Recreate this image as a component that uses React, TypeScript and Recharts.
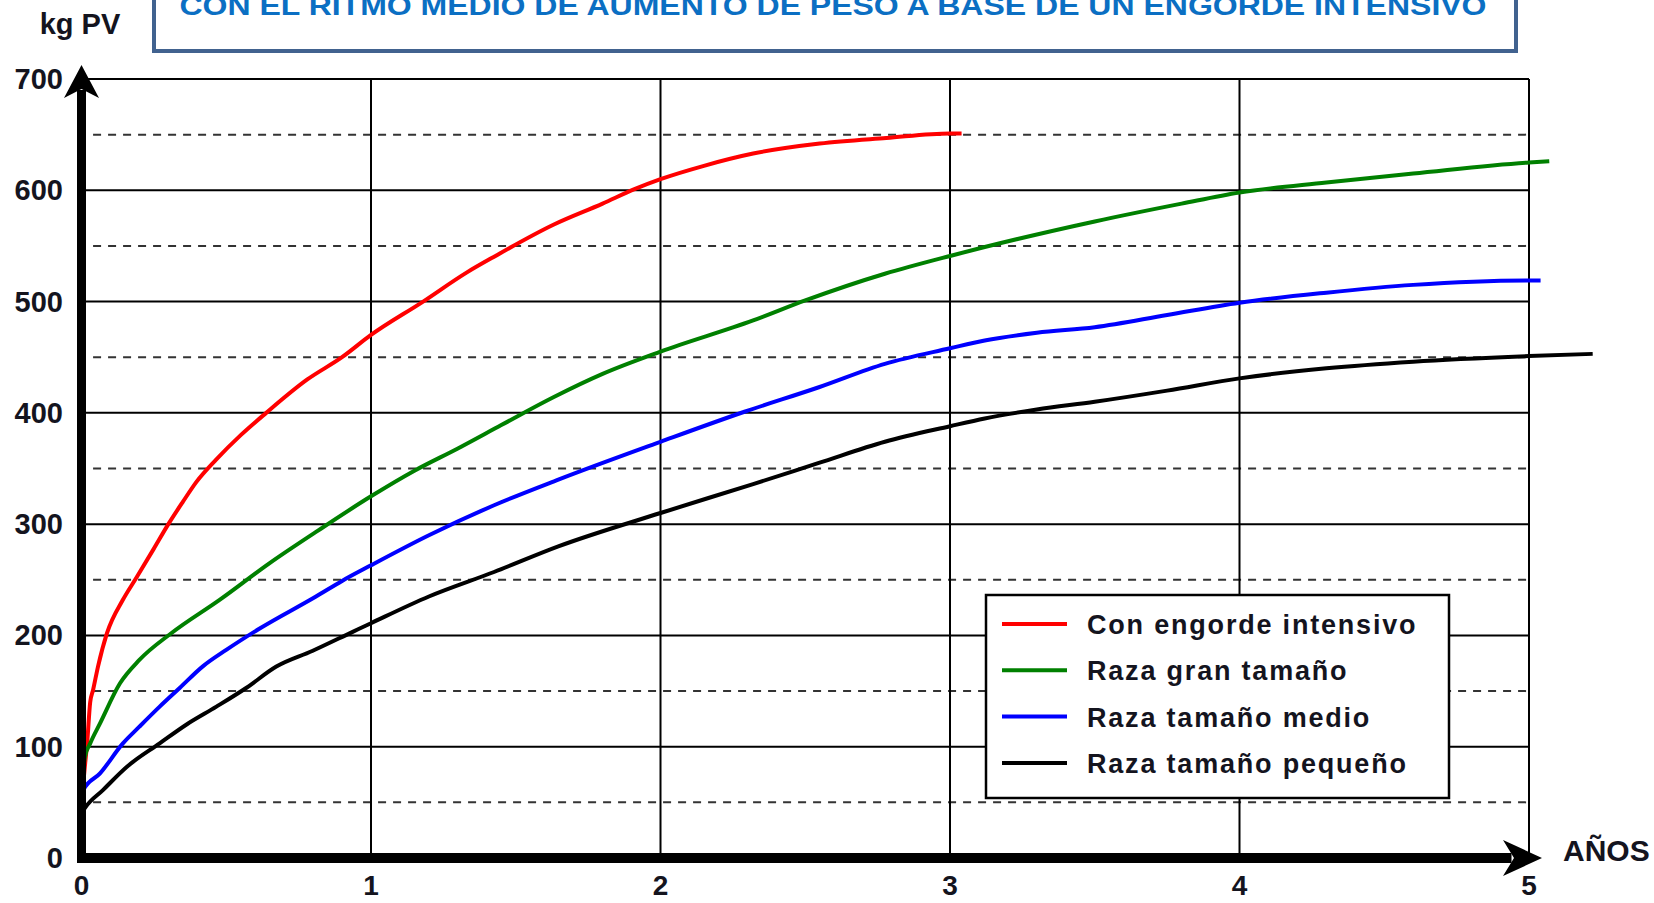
import React from 'react';
import { LineChart, Line, XAxis, YAxis, ReferenceLine } from 'recharts';

// Years and live weight (kg PV), per series
const redYears = [0, 0.01, 0.02, 0.03, 0.04, 0.057, 0.088, 0.143, 0.19, 0.25, 0.3, 0.35, 0.397, 0.465, 0.55, 0.638, 0.78, 0.9, 1.0, 1.18, 1.33, 1.43, 1.63, 1.8, 1.91, 2.0, 2.15, 2.32, 2.55, 2.78, 3.0, 3.04];
const redKg = [50, 78, 105, 140, 151, 172, 202, 232, 252, 278, 300, 320, 338, 358, 380, 400, 430, 450, 470, 500, 526, 541, 569, 588, 601, 610, 622, 633, 642, 647, 651, 651];

const greenYears = [0, 0.012, 0.03, 0.064, 0.133, 0.2, 0.31, 0.477, 0.65, 0.81, 1.0, 1.15, 1.3, 1.45, 1.63, 1.8, 2.0, 2.32, 2.5, 2.775, 3.0, 3.12, 3.5, 3.8, 4.0, 4.3, 4.6, 5.0, 5.07];
const greenKg = [65, 91, 103, 121, 157, 178, 202, 232, 265, 293, 325, 348, 368, 389, 414, 435, 455, 483, 501, 525, 541, 549, 572, 588, 598, 607, 615, 625, 626];

const blueYears = [0, 0.006, 0.064, 0.143, 0.2, 0.27, 0.34, 0.418, 0.5, 0.614, 0.81, 0.9, 1.0, 1.2, 1.425, 1.647, 2.0, 2.29, 2.547, 2.775, 3.0, 3.12, 3.3, 3.5, 3.75, 4.0, 4.3, 4.6, 5.0, 5.04];
const blueKg = [55, 61, 76, 103, 118, 136, 153, 172, 187, 206, 235, 249, 263, 290, 317, 340, 374, 401, 423, 444, 458, 465, 472, 477, 488, 499, 508, 515, 519, 519];

const blackYears = [0, 0.012, 0.074, 0.157, 0.27, 0.363, 0.466, 0.57, 0.673, 0.797, 0.935, 1.0, 1.2, 1.425, 1.647, 2.0, 2.32, 2.547, 2.775, 3.0, 3.12, 3.3, 3.5, 3.75, 4.0, 4.3, 4.6, 5.0, 5.22];
const blackKg = [40, 45, 61, 82, 103, 120, 136, 153, 172, 186, 203, 211, 235, 257, 280, 310, 336, 355, 374, 388, 395, 403, 410, 420, 431, 440, 446, 451, 453];

const yearTicks = [0, 1, 2, 3, 4, 5];
const kgTicks = [0, 100, 200, 300, 400, 500, 600, 700];
const halfTicks = [50, 150, 250, 350, 450, 550, 650];

const seriesNames = ['Con engorde intensivo', 'Raza gran tamaño', 'Raza tamaño medio', 'Raza tamaño pequeño'];
const seriesColors = ['#ff0000', '#008000', '#0000ff', '#000000'];

const title = 'CON EL RITMO MEDIO DE AUMENTO DE PESO A BASE DE UN ENGORDE INTENSIVO';

const toPoints = (xs: number[], ys: number[]) => xs.map((t, i) => ({ t, kg: ys[i] }));
const seriesData = [
  toPoints(redYears, redKg),
  toPoints(greenYears, greenKg),
  toPoints(blueYears, blueKg),
  toPoints(blackYears, blackKg),
];

const W = 1654;
const H = 903;
const PLOT_LEFT = 81.5;
const PLOT_TOP = 79;
const PLOT_BOTTOM = 858;
const X_AT_5 = 1529;
const X_MAX = 5.25;
const RIGHT_MARGIN = W - (PLOT_LEFT + ((X_AT_5 - PLOT_LEFT) * X_MAX) / 5);

const FONT = '"Liberation Sans", Arial, sans-serif';
const TEXT = '#14141e';

function XTick(props: any) {
  return (
    <text x={props.x} y={895} textAnchor="middle" fontFamily={FONT} fontWeight="bold" fontSize={28} fill={TEXT}>
      {props.payload.value}
    </text>
  );
}

function YTick(props: any) {
  return (
    <text x={63} y={props.y + 10} textAnchor="end" fontFamily={FONT} fontWeight="bold" fontSize={29} fill={TEXT}>
      {props.payload.value}
    </text>
  );
}

export default function App() {
  return (
    <div style={{ position: 'absolute', left: 0, top: 0, width: W, height: H, background: '#fff' }}>
      <LineChart width={W} height={H} margin={{ top: PLOT_TOP, right: RIGHT_MARGIN, bottom: 0, left: 0 }}>
        <XAxis
          dataKey="t"
          type="number"
          domain={[0, X_MAX]}
          ticks={yearTicks}
          height={H - PLOT_BOTTOM}
          axisLine={false}
          tickLine={false}
          tick={XTick}
        />
        <YAxis
          type="number"
          domain={[0, 700]}
          ticks={kgTicks}
          width={PLOT_LEFT}
          axisLine={false}
          tickLine={false}
          tick={YTick}
        />
        {halfTicks.map((v) => (
          <ReferenceLine
            key={'d' + v}
            segment={[{ x: 0.04, y: v }, { x: 4.99, y: v }]}
            stroke="#333"
            strokeWidth={2}
            strokeDasharray="8 7"
          />
        ))}
        {kgTicks.slice(1).map((v) => (
          <ReferenceLine key={'h' + v} segment={[{ x: 0, y: v }, { x: 5, y: v }]} stroke="#000" strokeWidth={2} />
        ))}
        {yearTicks.slice(1).map((t) => (
          <ReferenceLine key={'v' + t} segment={[{ x: t, y: 0 }, { x: t, y: 700 }]} stroke="#000" strokeWidth={2} />
        ))}
        {seriesData.map((d, i) => (
          <Line
            key={seriesNames[i]}
            data={d}
            dataKey="kg"
            name={seriesNames[i]}
            type="monotone"
            stroke={seriesColors[i]}
            strokeWidth={4}
            dot={false}
            isAnimationActive={false}
          />
        ))}
      </LineChart>

      <svg width={W} height={H} style={{ position: 'absolute', left: 0, top: 0, pointerEvents: 'none' }}>
        <rect x={154} y={-10} width={1362} height={61} fill="none" stroke="#41628f" strokeWidth={4} />
        <text
          x={833}
          y={15}
          textAnchor="middle"
          fontFamily={FONT}
          fontWeight="bold"
          fontSize={28}
          fill="#0b6fc3"
          textLength={1307}
          lengthAdjust="spacingAndGlyphs"
        >
          {title}
        </text>
        <text x={80} y={34} textAnchor="middle" fontFamily={FONT} fontWeight="bold" fontSize={29} fill={TEXT}>
          kg PV
        </text>
        <text x={1563} y={861} fontFamily={FONT} fontWeight="bold" fontSize={30} fill={TEXT}>
          AÑOS
        </text>

        {/* axes with arrow heads */}
        <rect x={PLOT_LEFT - 4.5} y={90} width={9} height={PLOT_BOTTOM + 4 - 90} fill="#000" />
        <polygon points={`${PLOT_LEFT},65 99,98 ${PLOT_LEFT},89 64,98`} fill="#000" />
        <rect x={PLOT_LEFT - 4.5} y={PLOT_BOTTOM - 5} width={1516 - PLOT_LEFT} height={10} fill="#000" />
        <polygon points={`1542,${PLOT_BOTTOM} 1503,876 1514,${PLOT_BOTTOM} 1503,840`} fill="#000" />

        {/* legend */}
        <rect x={986} y={595} width={463} height={203} fill="#fff" stroke="#000" strokeWidth={2.5} />
        {seriesNames.map((name, i) => {
          const y = 624 + i * 46.3;
          return (
            <g key={name}>
              <line x1={1002} x2={1067} y1={y} y2={y} stroke={seriesColors[i]} strokeWidth={4} />
              <text x={1087} y={y + 10} fontFamily={FONT} fontWeight="bold" fontSize={27} letterSpacing={1.8} fill={TEXT}>
                {name}
              </text>
            </g>
          );
        })}
      </svg>
    </div>
  );
}
